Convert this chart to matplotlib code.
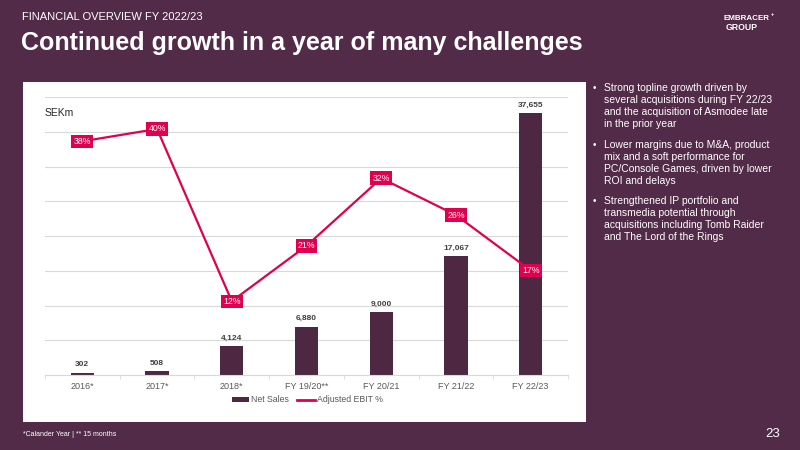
import matplotlib
matplotlib.use('Agg')
import numpy as np
import matplotlib.pyplot as plt
from matplotlib.patches import Rectangle, Patch
from matplotlib.lines import Line2D

plt.rcParams['font.family'] = ['Liberation Sans', 'DejaVu Sans']

categories = ['2016*', '2017*', '2018*', 'FY 19/20**', 'FY 20/21', 'FY 21/22', 'FY 22/23']
net_sales = [302, 508, 4124, 6880, 9000, 17067, 37655]
ebit_pct = [38, 40, 12, 21, 32, 26, 17]

bullets = [
    ['Strong topline growth driven by', 'several acquisitions during FY 22/23',
     'and the acquisition of Asmodee late', 'in the prior year'],
    ['Lower margins due to M&A, product', 'mix and a soft performance for',
     'PC/Console Games, driven by lower', 'ROI and delays'],
    ['Strengthened IP portfolio and', 'transmedia potential through',
     'acquisitions including Tomb Raider', 'and The Lord of the Rings'],
]

BG = '#512B47'
BAR = '#4E2843'
LINE = '#E0004D'
W, H = 800, 450

fig = plt.figure(figsize=(8, 4.5), dpi=100)
fig.patch.set_facecolor(BG)

# white chart panel
fig.patches.append(Rectangle((23 / W, 1 - 422 / H), (586 - 23) / W, (422 - 82) / H,
                             transform=fig.transFigure, facecolor='white', edgecolor='none', zorder=-5))

# header
fig.text(22 / W, 1 - 17 / H, 'FINANCIAL OVERVIEW FY 2022/23', color='white', fontsize=8,
         va='center', ha='left')
fig.text(21 / W, 1 - 43 / H, 'Continued growth in a year of many challenges', color='white',
         fontsize=18, fontweight='bold', va='center', ha='left')
fig.text(724 / W, 1 - 18 / H, 'EMBRACER', color='white', fontsize=5.8, fontweight='bold',
         va='center', ha='left')
fig.text(771 / W, 1 - 14 / H, '+', color='white', fontsize=4, fontweight='bold',
         va='center', ha='left')
fig.text(726 / W, 1 - 27 / H, 'GROUP', color='white', fontsize=6.3, fontweight='bold',
         va='center', ha='left')

# chart
ax = fig.add_axes([45 / W, 1 - 375 / H, (568 - 45) / W, (375 - 97) / H])
ax.set_facecolor('none')
x = np.arange(len(categories))
bars = ax.bar(x, net_sales, width=0.31, color=BAR, zorder=2)
ax.set_ylim(0, 40000)
ax.set_xlim(-0.5, len(categories) - 0.5)
ax.set_yticks(np.arange(0, 40001, 5000))
ax.yaxis.grid(True, color='#D9D9D9', linewidth=0.8, zorder=0)
ax.set_axisbelow(True)
ax.set_xticks(x)
ax.set_xticklabels(categories, fontsize=6.5, color='#595959')
ax.tick_params(axis='x', length=0, pad=5)
ax.set_xticks(np.arange(-0.5, len(categories), 1), minor=True)
ax.tick_params(axis='x', which='minor', length=3, color='#D9D9D9')
for s in ['top', 'right', 'left']:
    ax.spines[s].set_visible(False)
ax.spines['bottom'].set_color('#D9D9D9')
for xi, v in zip(x, net_sales):
    ax.annotate(f'{v:,}', (xi, v), xytext=(0, 3.5), textcoords='offset points', ha='center',
                va='bottom', fontsize=6, fontweight='bold', color='#404040')

ax2 = ax.twinx()
ax2.set_ylim(0, 45.2)
ax2.axis('off')
ax.tick_params(axis='y', left=False, right=False, labelleft=False, labelright=False)
ax2.plot(x, ebit_pct, color=LINE, linewidth=1.6, zorder=3)
for xi, v in zip(x, ebit_pct):
    ax2.text(xi, v, f'{v}%', ha='center', va='center', fontsize=6.3, color='white', zorder=4,
             bbox=dict(boxstyle='square,pad=0.25', facecolor=LINE, edgecolor='none'))

fig.text(45 / W, 1 - 113 / H, 'SEKm', fontsize=7.5, color='#262626', va='center', ha='left')

handles = [Patch(facecolor=BAR, edgecolor='none'), Line2D([], [], color=LINE, linewidth=2)]
fig.legend(handles, ['Net Sales', 'Adjusted EBIT %'], loc='center', bbox_to_anchor=(307 / W, 1 - 400 / H),
           ncol=2, frameon=False, fontsize=6.3, handlelength=2.0, handletextpad=0.2, columnspacing=1.0,
           labelcolor='#595959', handleheight=0.6)

# bullets
y = 88
for block in bullets:
    fig.text(593 / W, 1 - y / H, '•', color='white', fontsize=7, va='center', ha='left')
    for line in block:
        fig.text(604 / W, 1 - y / H, line, color='white', fontsize=7.5, va='center', ha='left')
        y += 12
    y += 8.5

# footer
fig.text(23 / W, 1 - 434 / H, '*Calander Year | ** 15 months', color='white', fontsize=5,
         va='center', ha='left')
fig.text(780 / W, 1 - 434 / H, '23', color='white', fontsize=9.5, va='center', ha='right')

fig.savefig('out.png', dpi=100, facecolor=BG)
